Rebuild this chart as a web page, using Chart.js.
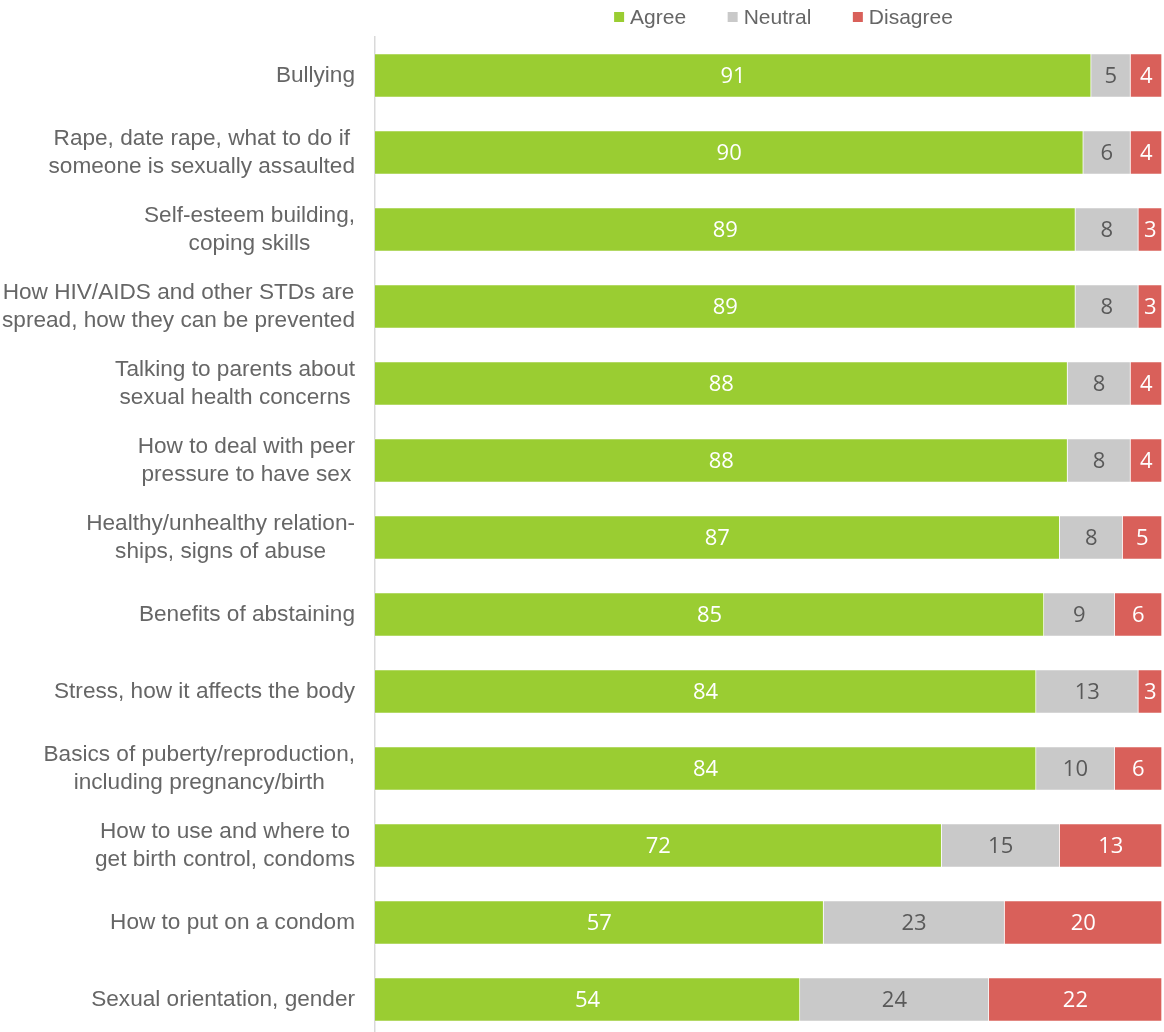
<!DOCTYPE html>
<html>
<head>
<meta charset="utf-8">
<script src="https://cdn.jsdelivr.net/npm/chart.js@4.4.1/dist/chart.umd.min.js"></script>
<style>
  html, body { margin: 0; padding: 0; background: #fff; overflow: hidden; }
  #wrap { width: 1164px; height: 1040px; }
</style>
</head>
<body>
<div id="wrap"><canvas id="graficoTemas"></canvas></div>
<script>
const temas = [
    "Bullying",
    ["Rape, date rape, what to do if", "someone is sexually assaulted"],
    ["Self-esteem building,", "coping skills"],
    ["How HIV/AIDS and other STDs are", "spread, how they can be prevented"],
    ["Talking to parents about", "sexual health concerns"],
    ["How to deal with peer", "pressure to have sex"],
    ["Healthy/unhealthy relation-", "ships, signs of abuse"],
    "Benefits of abstaining",
    "Stress, how it affects the body",
    ["Basics of puberty/reproduction,", "including pregnancy/birth"],
    ["How to use and where to", "get birth control, condoms"],
    "How to put on a condom",
    "Sexual orientation, gender",
]
const agree = [91, 90, 89, 89, 88, 88, 87, 85, 84, 84, 72, 57, 54]
const neutral = [5, 6, 8, 8, 8, 8, 8, 9, 13, 10, 15, 23, 24]
const disagree = [4, 4, 3, 3, 4, 4, 5, 6, 3, 6, 13, 20, 22]

const colorTexto = "#666666"

// numeros dentro de cada barra
const etiquetasBarras = {
    id: "etiquetasBarras",
    afterDatasetsDraw(chart) {
        const ctx = chart.ctx
        ctx.save()
        ctx.font = "22px 'Open Sans'"
        ctx.textAlign = "center"
        ctx.textBaseline = "middle"
        chart.data.datasets.forEach((ds, i) => {
            const meta = chart.getDatasetMeta(i)
            meta.data.forEach((bar, j) => {
                const p = bar.getProps(["x", "y", "base"], true)
                ctx.fillStyle = ds.labelColor
                ctx.fillText(ds.data[j], (p.x + p.base) / 2, p.y + 1)
            })
        })
        ctx.restore()
    },
}

// etiquetas del eje y: bloque alineado a la derecha, lineas centradas
const etiquetasEje = {
    id: "etiquetasEje",
    afterDraw(chart) {
        const ctx = chart.ctx
        const y = chart.scales.y
        const derecha = chart.chartArea.left - 20
        const alto = 28
        ctx.save()
        ctx.font = "22.6px 'Liberation Sans', Arial"
        ctx.fillStyle = colorTexto
        ctx.textAlign = "center"
        ctx.textBaseline = "middle"
        chart.data.labels.forEach((lab, i) => {
            const lineas = Array.isArray(lab) ? lab : [lab]
            const ancho = Math.max(...lineas.map(l => ctx.measureText(l).width))
            const cx = derecha - ancho / 2
            const cy = y.getPixelForValue(i)
            lineas.forEach((l, k) => {
                ctx.fillText(l, cx, cy + (k - (lineas.length - 1) / 2) * alto)
            })
        })
        ctx.restore()
    },
}

// leyenda arriba
const leyenda = {
    id: "leyenda",
    afterDraw(chart) {
        const ctx = chart.ctx
        ctx.save()
        ctx.font = "21px 'Liberation Sans', Arial"
        ctx.textBaseline = "middle"
        const caja = 10, hueco = 6, sep = 41.5, yc = 17
        const items = chart.data.datasets.map(ds => ({
            texto: ds.label,
            color: ds.backgroundColor,
            ancho: caja + hueco + ctx.measureText(ds.label).width,
        }))
        const total = items.reduce((s, it) => s + it.ancho, 0) + sep * (items.length - 1)
        const centro = (chart.chartArea.left + chart.chartArea.right) / 2 + 15
        let x = centro - total / 2
        items.forEach(it => {
            ctx.fillStyle = it.color
            ctx.fillRect(x, yc - caja / 2, caja, caja)
            ctx.fillStyle = colorTexto
            ctx.fillText(it.texto, x + caja + hueco, yc + 1)
            x += it.ancho + sep
        })
        ctx.restore()
    },
}

const dataGraficoTemas = {
    labels: temas,
    datasets: [
        {
            label: "Agree",
            data: agree,
            backgroundColor: "#9ACD32",
            labelColor: "#ffffff",
        },
        {
            label: "Neutral",
            data: neutral,
            backgroundColor: "#C9C9C9",
            labelColor: "#595959",
        },
        {
            label: "Disagree",
            data: disagree,
            backgroundColor: "#D9605A",
            labelColor: "#ffffff",
        },
    ],
}

const configGraficoTemas = {
    type: "bar",
    data: dataGraficoTemas,
    options: {
        indexAxis: "y",
        responsive: true,
        maintainAspectRatio: false,
        animation: false,
        datasets: {
            bar: {
                barThickness: 44,
                borderWidth: 1,
                borderColor: "rgba(255,255,255,0.45)",
            },
        },
        layout: {
            padding: { top: 37, right: 2, bottom: 2, left: 0 },
        },
        plugins: {
            legend: { display: false },
            tooltip: { enabled: false },
        },
        scales: {
            x: {
                stacked: true,
                min: 0,
                max: 100,
                display: false,
            },
            y: {
                stacked: true,
                grid: { display: false, drawTicks: false },
                border: { display: true, color: "#D9D9D9", width: 1.5 },
                ticks: { display: false },
                afterFit(scale) {
                    scale.width = 375
                },
            },
        },
    },
    plugins: [etiquetasBarras, etiquetasEje, leyenda],
}

const chart1 = new Chart(
    document.getElementById("graficoTemas"),
    configGraficoTemas
)
</script>
</body>
</html>
